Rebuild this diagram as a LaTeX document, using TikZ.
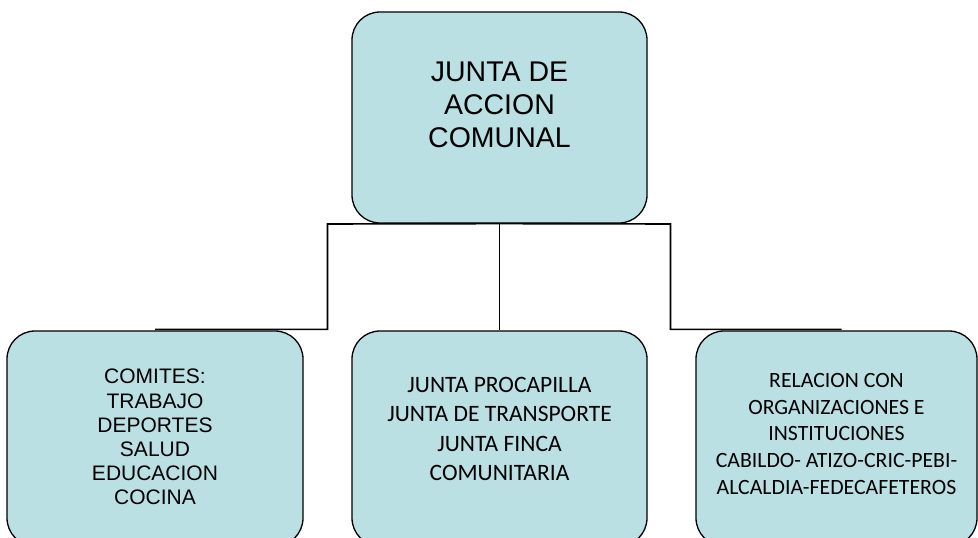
\documentclass[tikz,border=0pt]{standalone}
\usepackage{fontspec}
\setmainfont{Liberation Sans}
\newfontfamily\calibri{Carlito}
\usetikzlibrary{positioning}

\definecolor{boxfill}{RGB}{187,224,227}

\tikzset{
  orgbox/.style={draw=black, line width=1.3pt, fill=boxfill, rounded corners=28pt,
    inner sep=0pt, minimum width=296pt, minimum height=215pt},
  link/.style={draw=black, line width=1.6pt}
}

\newcommand{\orglines}[2]{\raisebox{#1}[\height][\depth]{\begin{tabular}{@{}c@{}}#2\end{tabular}}}

\begin{document}
\begin{tikzpicture}[x=1pt, y=-1pt]
        \useasboundingbox (0, 0) rectangle (978, 538);

        \node[orgbox, minimum width=295pt, minimum height=211pt, font=\fontsize{28.5}{33}\selectfont]
          (jac) at (499.5, 117.5) {\orglines{10pt}{JUNTA DE\\ACCION\\COMUNAL}};

        \node[orgbox, font=\fontsize{21}{24.2}\selectfont] (comites) at (155, 438.5)
          {\orglines{-1pt}{COMITES:\\TRABAJO\\DEPORTES\\SALUD\\EDUCACION\\COCINA}};
        \node[orgbox, minimum width=295pt, font=\calibri\fontsize{23.5}{29.4}\selectfont] (juntas) at (499.5, 438.5)
          {\orglines{8pt}{JUNTA PROCAPILLA\\JUNTA DE TRANSPORTE\\JUNTA FINCA\\COMUNITARIA}};
        \node[orgbox, minimum width=281pt, font=\calibri\fontsize{21.8}{26.7}\selectfont] (relacion) at (836.5, 438.5)
          {\orglines{3pt}{RELACION CON\\ORGANIZACIONES E\\INSTITUCIONES\\CABILDO- ATIZO-CRIC-PEBI-\\ALCALDIA-FEDECAFETEROS}};

        \coordinate (elbowL) at (327.5, 224);
        \coordinate (elbowR) at (670.5, 224);

        \draw[link] (jac.south) -- (juntas.north);
        \draw[link] (jac.south) -- (elbowL) |- ([yshift=1pt]comites.north);
        \draw[link] (jac.south) -- (elbowR) |- ([xshift=5pt, yshift=1pt]relacion.north);
      \end{tikzpicture}
\end{document}
